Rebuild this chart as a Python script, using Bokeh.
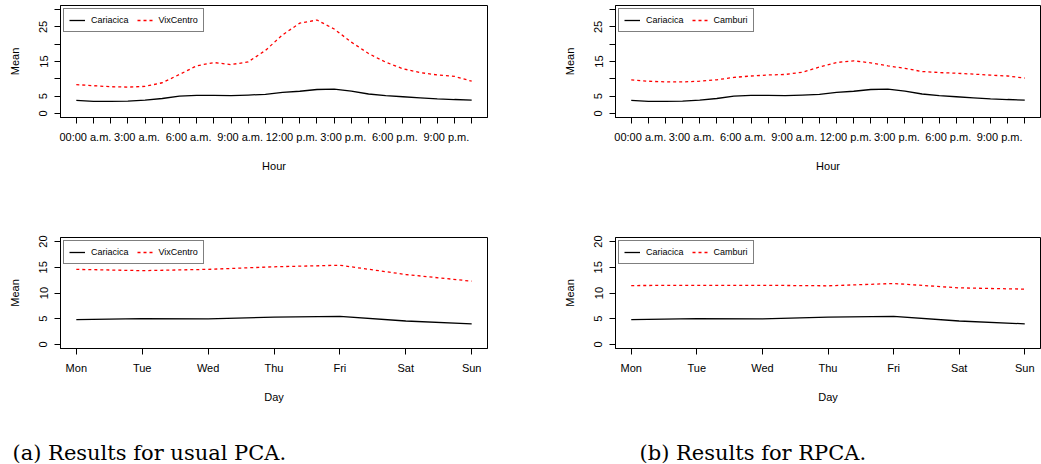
from bokeh.plotting import figure
from bokeh.models import Range1d, FixedTicker, Legend, LegendItem
from bokeh.layouts import column, row
from bokeh.embed import file_html
from bokeh.resources import INLINE
from bokeh.core.properties import value

# ---------------- data ----------------
hour_idx = list(range(24))
hour_label_idx = [0, 3, 6, 9, 12, 15, 18, 21]
hour_labels = ["00:00 a.m.", "3:00 a.m.", "6:00 a.m.", "9:00 a.m.",
               "12:00 p.m.", "3:00 p.m.", "6:00 p.m.", "9:00 p.m."]

cariacica_hour = [3.75, 3.46, 3.46, 3.56, 3.85, 4.3, 5.0, 5.2, 5.2, 5.1, 5.3, 5.5,
                  6.05, 6.4, 6.9, 7.0, 6.4, 5.6, 5.1, 4.8, 4.5, 4.2, 4.0, 3.85]
vixcentro_hour = [8.3, 8.0, 7.7, 7.6, 7.8, 8.85, 11.25, 13.75, 14.7, 14.1, 14.9, 18.2,
                  22.7, 26.1, 27.0, 24.4, 20.6, 17.3, 14.8, 12.9, 11.8, 11.1, 10.7, 9.3]
camburi_hour = [9.7, 9.3, 9.1, 9.1, 9.3, 9.7, 10.4, 10.8, 11.1, 11.25, 11.9, 13.4,
                14.7, 15.2, 14.6, 13.75, 13.0, 12.1, 11.8, 11.6, 11.35, 11.05, 10.8, 10.2]

day_idx = list(range(7))
day_labels = ["Mon", "Tue", "Wed", "Thu", "Fri", "Sat", "Sun"]
cariacica_day = [4.8, 5.0, 4.95, 5.3, 5.45, 4.55, 4.0]
vixcentro_day = [14.6, 14.35, 14.6, 15.1, 15.4, 13.6, 12.3]
camburi_day = [11.45, 11.5, 11.5, 11.4, 11.85, 11.0, 10.75]

hour_yticks = [0, 5, 10, 15, 20, 25, 30]
hour_ytick_hidden = [10, 20, 30]
day_yticks = [0, 5, 10, 15, 20]

caption_a = "(a) Results for usual PCA."
caption_b = "(b) Results for RPCA."

# ---------------- style ----------------
FONT = "Liberation Sans"
HOUR_LABEL_SHIFT = 0.53


def style_axes(p):
    for ax in p.axis:
        ax.axis_line_color = "black"
        ax.axis_line_width = 1
        ax.major_tick_line_color = "black"
        ax.major_tick_out = 6
        ax.major_tick_in = 0
        ax.minor_tick_line_color = None
        ax.major_label_text_font = FONT
        ax.major_label_text_font_size = "11px"
        ax.major_label_text_color = "black"
        ax.axis_label_text_font = FONT
        ax.axis_label_text_font_size = "11px"
        ax.axis_label_text_font_style = "normal"
        ax.axis_label_text_color = "black"


def make_panel(x, y1, y2, name2, kind, width, height, bl, br, bt, bb):
    if kind == "hour":
        xr = Range1d(hour_idx[0] - 0.92, hour_idx[-1] + 0.92)
        yr = Range1d(-1.2, 31.2)
    else:
        xr = Range1d(day_idx[0] - 0.24, day_idx[-1] + 0.24)
        yr = Range1d(-0.8, 20.8)
    p = figure(width=width, height=height, x_range=xr, y_range=yr,
               output_backend="svg", toolbar_location=None,
               min_border_left=bl, min_border_right=br,
               min_border_top=bt, min_border_bottom=bb)
    p.xgrid.visible = False
    p.ygrid.visible = False
    p.outline_line_color = "black"
    p.outline_line_width = 1
    p.outline_line_alpha = 1
    p.background_fill_color = "white"
    p.border_fill_color = "white"

    r1 = p.line(x, y1, line_color="black", line_width=1.3)
    r2 = p.line(x, y2, line_color="red", line_width=1.3, line_dash="3 3")

    style_axes(p)
    xa = p.xaxis[0]
    ya = p.yaxis[0]
    if kind == "hour":
        label_pos = [h + HOUR_LABEL_SHIFT for h in hour_label_idx]
        xa.ticker = FixedTicker(ticks=label_pos, minor_ticks=hour_idx)
        xa.major_label_overrides = {pos: lab for pos, lab in zip(label_pos, hour_labels)}
        xa.major_tick_line_color = None
        xa.minor_tick_line_color = "black"
        xa.minor_tick_out = 6
        xa.minor_tick_in = 0
        xa.major_tick_out = 6
        xa.axis_label = "Hour"
        ya.ticker = FixedTicker(ticks=hour_yticks)
        ya.major_label_overrides = {t: "" for t in hour_ytick_hidden}
    else:
        xa.ticker = FixedTicker(ticks=day_idx)
        xa.major_label_overrides = {d: lab for d, lab in zip(day_idx, day_labels)}
        xa.axis_label = "Day"
        ya.ticker = FixedTicker(ticks=day_yticks)
    xa.major_label_standoff = 7
    xa.axis_label_standoff = 14
    ya.axis_label = "Mean"
    ya.major_label_orientation = "vertical"
    ya.major_label_standoff = 7
    ya.axis_label_standoff = 16

    legend = Legend(items=[LegendItem(label="Cariacica", renderers=[r1]),
                           LegendItem(label=name2, renderers=[r2])],
                    location="top_left", orientation="horizontal")
    legend.border_line_color = "black"
    legend.border_line_width = 1
    legend.background_fill_color = "white"
    legend.background_fill_alpha = 1
    legend.label_text_font = FONT
    legend.label_text_font_size = "9px"
    legend.label_text_color = "black"
    legend.glyph_width = 16
    legend.glyph_height = 12
    legend.label_height = 12
    legend.label_standoff = 6
    legend.spacing = 8
    legend.padding = 5
    legend.margin = 3
    p.add_layout(legend)
    return p


p1 = make_panel(hour_idx, cariacica_hour, vixcentro_hour, "VixCentro", "hour",
                520, 225, 60, 33, 5, 108)
p2 = make_panel(hour_idx, cariacica_hour, camburi_hour, "Camburi", "hour",
                521, 225, 95, 1, 5, 108)
p3 = make_panel(day_idx, cariacica_day, vixcentro_day, "VixCentro", "day",
                520, 180, 60, 33, 12, 56)
p4 = make_panel(day_idx, cariacica_day, camburi_day, "Camburi", "day",
                521, 180, 95, 1, 12, 56)

cap = figure(width=1041, height=59, x_range=Range1d(0, 1041), y_range=Range1d(0, 59),
             output_backend="svg", toolbar_location=None,
             x_axis_location=None, y_axis_location=None,
             min_border_left=0, min_border_right=0, min_border_top=0, min_border_bottom=0)
cap.xgrid.visible = False
cap.ygrid.visible = False
cap.outline_line_color = None
cap.text(x=[12, 639], y=[12, 12], text=[caption_a, caption_b],
         text_font=value("DejaVu Serif"), text_font_size="21px",
         text_baseline="alphabetic", text_align="left", text_color="black")

layout = column(row(p1, p2), row(p3, p4), cap)

open("out.html", "w").write(file_html(layout, INLINE))
